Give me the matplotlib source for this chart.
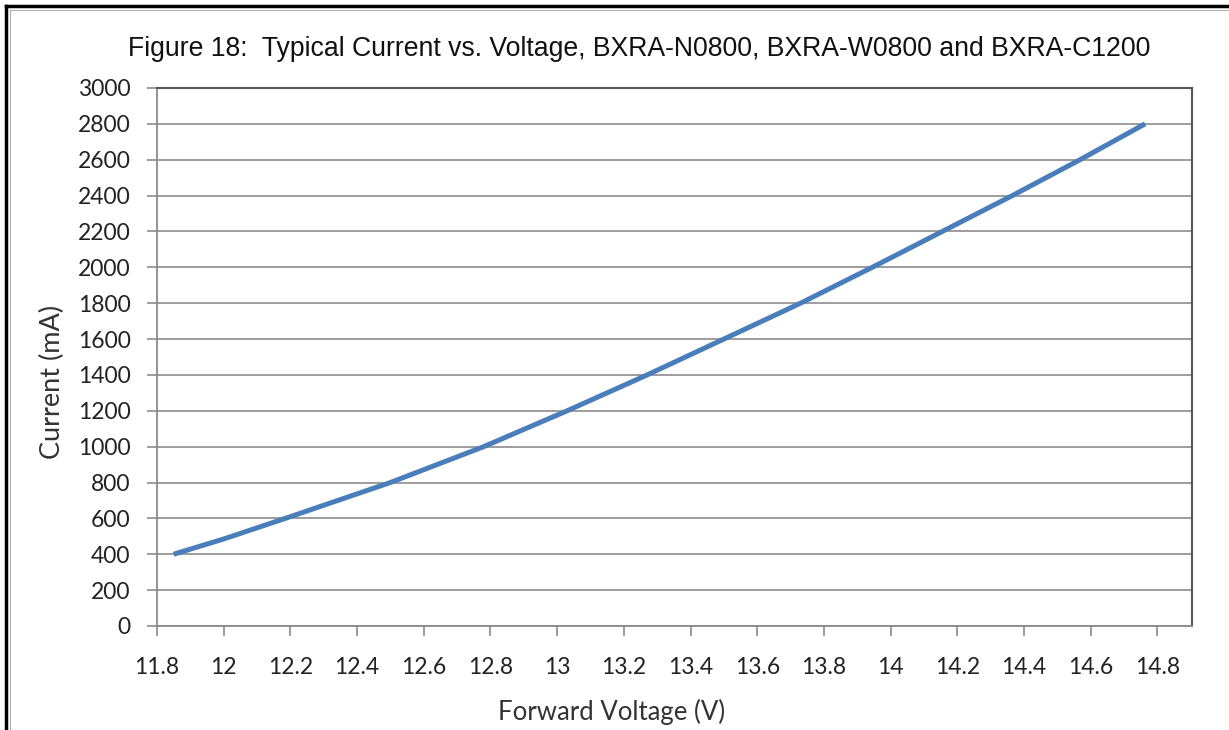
import matplotlib.pyplot as plt
from matplotlib.lines import Line2D

# values
voltage = [11.85, 12.0, 12.185, 12.50, 12.78, 13.03, 13.27, 13.50, 13.73,
           13.945, 14.155, 14.365, 14.568, 14.763]
current = [400, 485, 600, 800, 1000, 1200, 1400, 1600, 1800,
           2000, 2200, 2400, 2600, 2800]

x_ticks = [11.8, 12, 12.2, 12.4, 12.6, 12.8, 13, 13.2, 13.4, 13.6, 13.8, 14, 14.2, 14.4, 14.6, 14.8]
x_labels = ['11.8', '12', '12.2', '12.4', '12.6', '12.8', '13', '13.2', '13.4',
            '13.6', '13.8', '14', '14.2', '14.4', '14.6', '14.8']
y_ticks = list(range(0, 3001, 200))

title = 'Figure 18:  Typical Current vs. Voltage, BXRA-N0800, BXRA-W0800 and BXRA-C1200'

fig = plt.figure(figsize=(12.29, 7.30), dpi=100)
ax = fig.add_axes([0.1277, 0.1425, 0.8423, 0.737])

ax.plot(voltage, current, color='#4a7ebb', lw=3.6, solid_capstyle='butt', zorder=3)

ax.set_xlim(11.8, 14.904)
ax.set_ylim(0, 3000)
ax.set_xticks(x_ticks)
ax.set_xticklabels(x_labels)
ax.set_yticks(y_ticks)
ax.yaxis.grid(True, color='#8c8c8c', lw=1.2)
ax.set_axisbelow(True)

for side in ['left', 'bottom']:
    ax.spines[side].set_color('#8c8c8c')
    ax.spines[side].set_linewidth(1.3)
for side in ['top', 'right']:
    ax.spines[side].set_color('#555555')
    ax.spines[side].set_linewidth(1.5)

ax.tick_params(axis='both', colors='#8c8c8c', width=1.2, length=7,
               labelcolor='#222222', labelsize=16.5)
ax.tick_params(axis='y', pad=12)
ax.tick_params(axis='x', pad=15)
for lab in ax.get_xticklabels() + ax.get_yticklabels():
    lab.set_family('Lato')

# axis titles sit where the reference puts them (not centred on the plot area)
fig.text(52 / 1229, 1 - 382 / 730, 'Current (mA)', rotation=90, ha='center', va='center',
         family='Lato', fontsize=19.5, color='#333333')
fig.text(612 / 1229, 1 - 712 / 730, 'Forward Voltage (V)', ha='center', va='center',
         family='Lato', fontsize=18.5, color='#333333')
fig.text(639 / 1229, 1 - 56 / 730, title, ha='center', va='baseline',
         family='Liberation Sans', fontsize=19.2, color='#111111')

# outer frame (black) plus thin gray chart border, cut off at right and bottom
fig.add_artist(Line2D([6 / 1229, 6 / 1229], [0, 1 - 6 / 730], color='black', lw=2.5))
fig.add_artist(Line2D([6 / 1229, 1], [1 - 6 / 730, 1 - 6 / 730], color='black', lw=2.5))
fig.add_artist(Line2D([9.5 / 1229, 9.5 / 1229], [0, 1 - 9.5 / 730], color='#b0b0b0', lw=0.8))
fig.add_artist(Line2D([9.5 / 1229, 1], [1 - 9.5 / 730, 1 - 9.5 / 730], color='#b0b0b0', lw=0.8))

fig.savefig('out.png', dpi=100, facecolor='white')
